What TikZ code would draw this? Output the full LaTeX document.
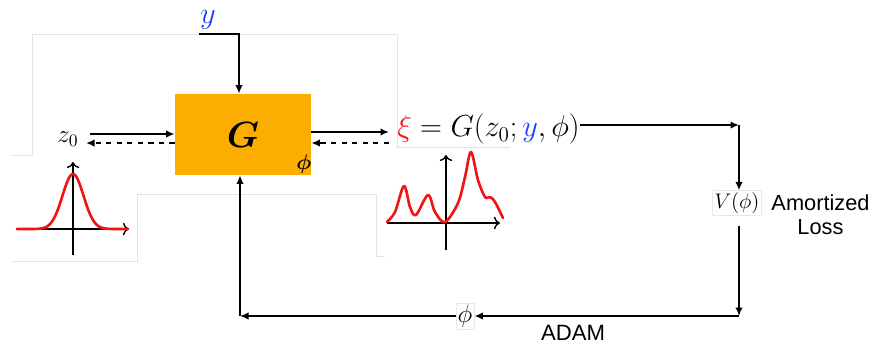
\documentclass[tikz,border=0pt]{standalone}
\usepackage{amsmath}
\usepackage{bm}
\usepackage{fontspec}
\newfontfamily\helv{Liberation Sans}
\usetikzlibrary{arrows.meta}

\definecolor{gboxfill}{RGB}{252,174,0}
\definecolor{yblue}{RGB}{25,60,255}
\definecolor{xired}{RGB}{240,20,20}

\begin{document}
\begin{tikzpicture}[
	arr/.style={line width=1pt,-{Latex[length=1.7mm,width=1.5mm]}},
	dasharr/.style={arr,dashed},
	axis/.style={line width=0.8pt,-{To[length=1.2mm]}},
	dens/.style={xired,line width=1.5pt,line cap=round,line join=round},
	faint/.style={gray!22,line width=0.5pt},
	gbox/.style={fill=gboxfill,minimum width=2.72cm,minimum height=1.62cm,inner sep=0pt},
	lbl/.style={draw=gray!18,line width=0.4pt,inner sep=1pt}
	]
	
	\useasboundingbox (0,0) rectangle (17.5,7);
	
	% faint frames left from the pasted pieces
	\draw[faint] (0.22,3.9) -- (0.64,3.9) -- (0.64,6.32) -- (7.94,6.32) -- (7.94,4.06) -- (10.2,4.06);
	\draw[faint] (0.24,1.78) -- (2.74,1.78) -- (2.74,3.12) -- (7.52,3.12) -- (7.52,1.88) -- (7.7,1.88);
	
	% generator block
	\node[gbox,font=\fontsize{22}{22}\selectfont] (G) at (4.86,4.31) {$\bm{G}$};
	\node[font=\fontsize{13}{13}\selectfont] (phiG) at (6.08,3.72) {$\bm{\phi}$};
	
	% condition y from the top
	\node[text=yblue,inner sep=0pt,font=\fontsize{16}{16}\selectfont] (ylab) at (4.16,6.6) {$y$};
	\coordinate (yin) at (3.98,6.32);
	\coordinate (ycorner) at (4.78,6.32);
	\draw[arr] (yin) -- (ycorner) -- (ycorner |- G.north);
	
	% latent input
	\node[font=\fontsize{14}{14}\selectfont] (z0) at (1.36,4.22) {$z_0$};
	\coordinate (zin) at (1.8,4.32);
	\coordinate (zback) at (1.72,4.14);
	\draw[arr] (zin) -- (zin -| G.west);
	\draw[dasharr] (zback -| G.west) -- (zback);
	
	% output sample
	\coordinate (xout) at (7.78,4.36);
	\coordinate (xback) at (7.78,4.14);
	\draw[arr] (xout -| G.east) -- (xout);
	\draw[dasharr] (xback) -- (xback -| G.east);
	\node[anchor=west,inner sep=0pt,font=\fontsize{16.5}{16.5}\selectfont] (eq) at (7.94,4.42)
		{$\textcolor{xired}{\xi} = G(z_0; \textcolor{yblue}{y}, \phi)$};
	
	% loss and update loop
	\node[lbl,font=\fontsize{12}{12}\selectfont] (V) at (14.74,2.94) {$V(\phi)$};
	\node[align=center,font=\helv\fontsize{12.4}{13.6}\selectfont] (loss) at (16.41,2.7) {Amortized\\Loss};
	\coordinate (c1) at (14.78,4.5);
	\draw[arr] (eq.east |- c1) -- (c1);
	\draw[arr] (c1) -- (c1 |- V.north);
	
	\coordinate (c2) at (14.78,0.68);
	\coordinate (c3) at (4.8,0.68);
	\node[lbl,font=\fontsize{15}{15}\selectfont] (phiA) at (9.3,0.68) {$\phi$};
	\draw[arr,shorten <=0.2cm] (c2 |- V.south) -- (c2);
	\draw[arr] (c2) -- (phiA);
	\draw[arr] (phiA) -- (c3);
	\draw[arr] (c3) -- (c3 |- G.south);
	\node[font=\helv\fontsize{12.6}{12.6}\selectfont] (adam) at (11.46,0.34) {ADAM};
	
	% prior density
	\begin{scope}[shift={(1.46,2.42)}]
		\draw[axis] (-1.14,0) -- (1.12,0);
		\draw[axis] (0,-0.52) -- (0,1.34);
		\draw[dens] plot[domain=-1.12:1.1,samples=80] (\x,{1.1*exp(-(\x/0.21)^2/2)});
	\end{scope}
	
	% generated density
	\begin{scope}[shift={(8.92,2.54)}]
		\draw[axis] (-1.18,0) -- (1.08,0);
		\draw[axis] (0,-0.54) -- (0,1.36);
	\end{scope}
	\draw[dens] plot[smooth,tension=0.55] coordinates {
		(7.74,2.56) (7.9,2.76) (8.08,3.28) (8.2,2.86) (8.32,2.7) (8.56,3.1)
		(8.7,2.76) (8.9,2.56) (9.16,2.94) (9.3,3.46) (9.42,3.96) (9.56,3.4)
		(9.7,3.06) (9.8,3.06) (9.9,2.96) (10.06,2.64)};
	
\end{tikzpicture}
\end{document}
